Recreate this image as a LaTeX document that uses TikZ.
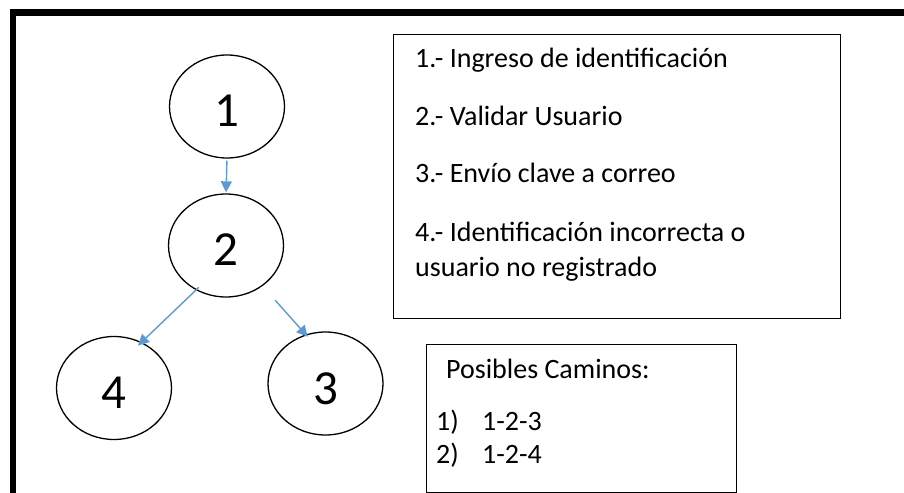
\documentclass[tikz,border=0pt]{standalone}
\usepackage{fontspec}
\setmainfont{Carlito}
\usetikzlibrary{arrows.meta,shapes.geometric}
\definecolor{arrowblue}{RGB}{91,155,213}
\begin{document}
\begin{tikzpicture}[x=1bp,y=-1bp,
  state/.style={draw,ellipse,line width=1.3bp,minimum width=115bp,minimum height=103bp,
    font=\fontsize{49bp}{49bp}\selectfont,text height=41bp,text depth=0pt,inner sep=0pt},
  flow/.style={draw=arrowblue,color=arrowblue,line width=1.4bp,-{Triangle[length=11bp,width=11bp]}},
  panel/.style={draw,line width=1.3bp,inner sep=0pt,anchor=north west},
  item/.style={anchor=base west,inner sep=0pt,font=\fontsize{28bp}{35bp}\selectfont},
]
\useasboundingbox (0,0) rectangle (904,493);
% frame
\fill (10,9) rectangle (904,16);
\fill (10,9) rectangle (16,493);
% states
\node[state] (n1) at (227,106.5) {1};
\node[state] (n2) at (226,245.5) {2};
\node[state] (n4) at (114,388) {4};
\node[state] (n3) at (325.5,383.5) {3};
% connectors
\draw[flow,shorten <=2bp,shorten >=1bp] (n1.south) -- (n2.north);
\draw[flow,shorten <=-4bp,shorten >=-5bp] (n2.236) -- (n4.59);
\draw[flow,shorten <=19bp,shorten >=-3bp] (n2.312.5) -- (n3.112.7);
% legend panel
\node[panel,minimum width=447bp,minimum height=284bp] (legend) at (393,34) {};
\node[item] (t1) at (415,68) {1.- Ingreso de identificación};
\node[item] (t2) at (415,126) {2.- Validar Usuario};
\node[item] (t3) at (415,183) {3.- Envío clave a correo};
\node[item] (t4a) at (415,242) {4.- Identificación incorrecta o};
\node[item] (t4b) at (415,277) {usuario no registrado};
% paths panel
\node[panel,minimum width=310bp,minimum height=148bp] (paths) at (426,344) {};
\node[item] (p0) at (446,378) {Posibles Caminos:};
\node[item] (p1n) at (436,430) {1)};
\node[item] (p1) at (482,430) {1-2-3};
\node[item] (p2n) at (436,463) {2)};
\node[item] (p2) at (482,463) {1-2-4};
\end{tikzpicture}
\end{document}
